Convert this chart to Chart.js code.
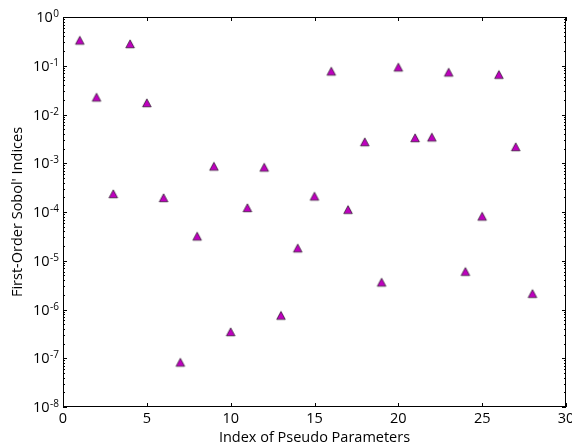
<!DOCTYPE html>
<html>
<head>
<meta charset="utf-8">
<script src="https://cdn.jsdelivr.net/npm/chart.js@4"></script>
<style>
  html, body { margin: 0; padding: 0; background: #fff; }
  #wrap { width: 572px; height: 448px; }
</style>
</head>
<body>
<div id="wrap"><canvas id="c" width="572" height="448"></canvas></div>
<script>
// Parameter indices and their first-order Sobol' indices
const paramIndex = [1, 2, 3, 4, 5, 6, 7, 8, 9, 10, 11, 12, 13, 14,
                    15, 16, 17, 18, 19, 20, 21, 22, 23, 24, 25, 26, 27, 28];
const sobolFirst = [0.33, 0.0224, 2.34e-4, 0.279, 0.0172, 1.94e-4, 8.2e-8,
                    3.16e-5, 8.6e-4, 3.45e-7, 1.21e-4, 8.2e-4, 7.5e-7, 1.8e-5,
                    2.09e-4, 0.0766, 1.11e-4, 2.72e-3, 3.6e-6, 0.0927, 3.29e-3,
                    3.4e-3, 0.0731, 5.96e-6, 8.1e-5, 0.0655, 2.15e-3, 2.1e-6];

// Axis ticks
const xTicks = [0, 5, 10, 15, 20, 25, 30];
const yExponents = [0, -1, -2, -3, -4, -5, -6, -7, -8];

const FONT = '"Open Sans", sans-serif';
const MAGENTA = '#bf00bf';

// Upward triangle marker (equal width and height)
function makeTriangle() {
  const s = 12;
  const cv = document.createElement('canvas');
  cv.width = s; cv.height = s;
  const g = cv.getContext('2d');
  g.beginPath();
  g.moveTo(6, 1.8);
  g.lineTo(10.3, 9.8);
  g.lineTo(1.7, 9.8);
  g.closePath();
  g.fillStyle = MAGENTA;
  g.fill();
  g.lineWidth = 0.6;
  g.strokeStyle = '#000';
  g.stroke();
  return cv;
}

const frameAndLabels = {
  id: 'frameAndLabels',
  afterDraw(chart) {
    const ctx = chart.ctx;
    const a = chart.chartArea;
    const xs = chart.scales.x, ys = chart.scales.y;
    ctx.save();
    ctx.strokeStyle = '#000';
    ctx.lineWidth = 1;

    // frame
    ctx.strokeRect(Math.round(a.left) + 0.5, Math.round(a.top) + 0.5,
                   Math.round(a.right - a.left) - 1, Math.round(a.bottom - a.top) - 1);

    // x ticks (inside, top and bottom)
    ctx.beginPath();
    xTicks.forEach(v => {
      const px = Math.round(xs.getPixelForValue(v)) + 0.5;
      ctx.moveTo(px, a.bottom); ctx.lineTo(px, a.bottom - 4);
      ctx.moveTo(px, a.top); ctx.lineTo(px, a.top + 4);
    });
    // y ticks: major decades and minor 2..9
    yExponents.forEach(e => {
      const py = Math.round(ys.getPixelForValue(Math.pow(10, e))) + 0.5;
      ctx.moveTo(a.left, py); ctx.lineTo(a.left + 4, py);
      ctx.moveTo(a.right, py); ctx.lineTo(a.right - 4, py);
      if (e < 0) {
        for (let m = 2; m <= 9; m++) {
          const pm = Math.round(ys.getPixelForValue(m * Math.pow(10, e))) + 0.5;
          ctx.moveTo(a.left, pm); ctx.lineTo(a.left + 2, pm);
          ctx.moveTo(a.right, pm); ctx.lineTo(a.right - 2, pm);
        }
      }
    });
    ctx.stroke();

    ctx.fillStyle = '#000';
    // x tick labels
    ctx.font = '14.5px ' + FONT;
    ctx.textAlign = 'center';
    ctx.textBaseline = 'middle';
    xTicks.forEach(v => {
      ctx.fillText(String(v), xs.getPixelForValue(v), a.bottom + 12);
    });

    // y tick labels as 10 with superscript exponent
    yExponents.forEach(e => {
      const py = ys.getPixelForValue(Math.pow(10, e));
      const expText = e === 0 ? '0' : '-' + Math.abs(e);
      const right = a.left - 4;
      ctx.font = '10px ' + FONT;
      const ew = ctx.measureText(expText).width;
      ctx.textAlign = 'right';
      ctx.textBaseline = 'alphabetic';
      ctx.fillText(expText, right, py);
      ctx.font = '14.5px ' + FONT;
      ctx.textBaseline = 'middle';
      ctx.fillText('10', right - ew - 0.5, py + 1);
    });

    // axis titles
    ctx.font = '14.5px ' + FONT;
    ctx.textAlign = 'center';
    ctx.textBaseline = 'middle';
    ctx.fillText('Index of Pseudo Parameters', (a.left + a.right) / 2, a.bottom + 31);
    ctx.translate(18, (a.top + a.bottom) / 2);
    ctx.rotate(-Math.PI / 2);
    ctx.fillText("First-Order Sobol' Indices", 0, 0);
    ctx.restore();
  }
};

new Chart(document.getElementById('c'), {
  type: 'scatter',
  data: {
    datasets: [{
      data: paramIndex.map((x, i) => ({ x, y: sobolFirst[i] })),
      pointStyle: makeTriangle(),
      pointRadius: 5,
      pointHoverRadius: 5
    }]
  },
  options: {
    responsive: false,
    animation: false,
    events: [],
    layout: { padding: { left: 63, top: 17, right: 6, bottom: 41 } },
    plugins: { legend: { display: false }, tooltip: { enabled: false } },
    scales: {
      x: { type: 'linear', min: 0, max: 30, display: false },
      y: { type: 'logarithmic', min: 1e-8, max: 1, display: false }
    }
  },
  plugins: [frameAndLabels]
});
</script>
</body>
</html>
